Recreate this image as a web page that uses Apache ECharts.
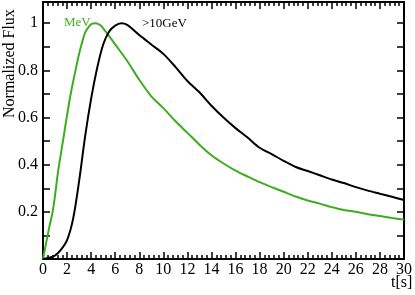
<!DOCTYPE html>
<html>
	<head>
		<meta charset="utf-8" />
		<title></title>
		<script type="text/javascript" src="https://cdn.jsdelivr.net/npm/echarts@6/dist/echarts.min.js"></script>
		<style>
			html, body { margin: 0; padding: 0; background: #fff; }
		</style>
	</head>
	<body>
		<div id="main" style="width: 415px;height: 295px;"></div>
		<script type="text/javascript">
    // MeV curve (green)
    var mevT    = [0, 0.5, 0.8, 1.0, 1.25, 1.5, 1.75, 2.0, 2.3, 2.7, 3.0, 3.2, 3.5, 3.8, 4.1, 4.4, 4.8, 5.2, 6, 7, 8, 9, 10, 11, 12, 13, 14, 15, 16, 17, 18, 19, 20, 21, 22, 23, 24, 25, 26, 27, 28, 29, 30];
    var mevFlux = [0, 0.13, 0.2, 0.27, 0.37, 0.45, 0.53, 0.61, 0.7, 0.8, 0.87, 0.91, 0.96, 0.985, 0.998, 1.0, 0.99, 0.965, 0.91, 0.84, 0.76, 0.69, 0.64, 0.585, 0.535, 0.485, 0.44, 0.405, 0.375, 0.35, 0.326, 0.305, 0.285, 0.265, 0.248, 0.235, 0.22, 0.208, 0.2, 0.19, 0.182, 0.174, 0.167];
    // >10GeV curve (black)
    var gevT    = [0, 0.5, 1, 1.5, 2, 2.5, 3, 3.5, 4, 4.5, 5, 5.5, 6, 6.5, 7, 8, 9, 10, 11, 12, 13, 14, 15, 16, 17, 18, 19, 20, 21, 22, 23, 24, 25, 26, 27, 28, 29, 30];
    var gevFlux = [0, 0.005, 0.015, 0.04, 0.08, 0.17, 0.33, 0.52, 0.68, 0.81, 0.91, 0.965, 0.99, 1.0, 0.993, 0.95, 0.91, 0.87, 0.815, 0.755, 0.707, 0.65, 0.6, 0.555, 0.515, 0.472, 0.445, 0.416, 0.39, 0.373, 0.355, 0.337, 0.322, 0.305, 0.29, 0.277, 0.264, 0.25];
    var xTicks = [0, 2, 4, 6, 8, 10, 12, 14, 16, 18, 20, 22, 24, 26, 28, 30];
    var yTicks = [0.2, 0.4, 0.6, 0.8, 1];

    function pairs(xs, ys) {
      var out = [];
      for (var i = 0; i < xs.length; i++) out.push([xs[i], ys[i]]);
      return out;
    }

    var font = 'Liberation Serif';
    var frameLine = { show: true, onZero: false, lineStyle: { color: '#000', width: 2 } };

    var myChart = echarts.init(document.getElementById('main'));
    var option = {
      animation: false,
      grid: { left: 43, right: 8, top: 2, bottom: 36 },
      xAxis: [
        {
          type: 'value', min: 0, max: 30, interval: 2,
          axisLine: frameLine,
          axisTick: { inside: true, length: 7, lineStyle: { color: '#000', width: 1.5 } },
          minorTick: { show: true, splitNumber: 5, length: 4, lineStyle: { color: '#000', width: 1.5 } },
          splitLine: { show: false },
          axisLabel: {
            color: '#000', fontFamily: font, fontSize: 16, margin: 3,
            formatter: function (v) { return xTicks.indexOf(v) >= 0 ? String(v) : ''; }
          }
        },
        {
          type: 'value', min: 0, max: 30, interval: 2, position: 'top',
          axisLine: frameLine,
          axisTick: { inside: true, length: 7, lineStyle: { color: '#000', width: 1.5 } },
          minorTick: { show: true, splitNumber: 5, length: 4, lineStyle: { color: '#000', width: 1.5 } },
          splitLine: { show: false },
          axisLabel: { show: false }
        }
      ],
      yAxis: [
        {
          type: 'value', min: 0, max: 1.09, interval: 0.2,
          axisLine: frameLine,
          axisTick: { inside: true, length: 7, lineStyle: { color: '#000', width: 1.5 } },
          minorTick: { show: true, splitNumber: 2, length: 7, lineStyle: { color: '#000', width: 1.5 } },
          splitLine: { show: false },
          axisLabel: {
            color: '#000', fontFamily: font, fontSize: 16, margin: 5, showMaxLabel: false,
            formatter: function (v) {
              var r = Math.round(v * 10) / 10;
              return yTicks.indexOf(r) >= 0 ? String(r) : '';
            }
          }
        },
        {
          type: 'value', min: 0, max: 1.09, interval: 0.2, position: 'right',
          axisLine: frameLine,
          axisTick: { inside: true, length: 7, lineStyle: { color: '#000', width: 1.5 } },
          minorTick: { show: true, splitNumber: 2, length: 7, lineStyle: { color: '#000', width: 1.5 } },
          splitLine: { show: false },
          axisLabel: { show: false }
        }
      ],
      graphic: [
        { type: 'text', left: 2, top: 10, rotation: Math.PI / 2,
          style: { text: 'Normalized Flux', font: '16px "Liberation Serif"', fill: '#000' },
          x: 2, y: 118, left: null, top: null },
        { type: 'text', x: 391, y: 275,
          style: { text: 't[s]', font: '16px "Liberation Serif"', fill: '#000' } },
        { type: 'text', x: 64, y: 16,
          style: { text: 'MeV', font: '13px "Liberation Serif"', fill: '#3cae1e' } },
        { type: 'text', x: 142, y: 17,
          style: { text: '>10GeV', font: '13px "Liberation Serif"', fill: '#000' } }
      ],
      series: [
        {
          name: 'MeV', type: 'line', smooth: 0.3, showSymbol: false,
          lineStyle: { color: '#3cae1e', width: 2 },
          data: pairs(mevT, mevFlux)
        },
        {
          name: '>10GeV', type: 'line', smooth: 0.3, showSymbol: false,
          lineStyle: { color: '#000', width: 2 },
          data: pairs(gevT, gevFlux)
        }
      ]
    };
    myChart.setOption(option);
		</script>
	</body>
</html>
